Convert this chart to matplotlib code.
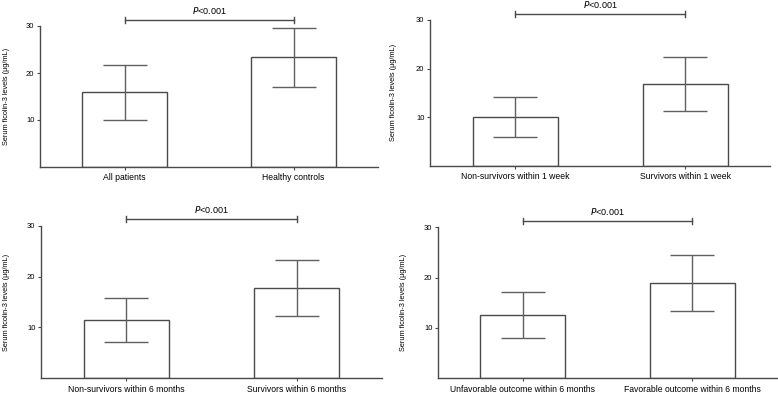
import matplotlib
matplotlib.use("Agg")
import matplotlib.pyplot as plt

plt.rcParams["font.family"] = ["Liberation Sans", "DejaVu Sans"]

# four comparisons, two groups each: mean and SD (ug/mL)
labels_a = ["All patients", "Healthy controls"]
means_a = [15.9, 23.3]
sd_a = [5.9, 6.3]

labels_b = ["Non-survivors within 1 week", "Survivors within 1 week"]
means_b = [10.0, 16.8]
sd_b = [4.1, 5.6]

labels_c = ["Non-survivors within 6 months", "Survivors within 6 months"]
means_c = [11.4, 17.8]
sd_c = [4.3, 5.5]

labels_d = ["Unfavorable outcome within 6 months", "Favorable outcome within 6 months"]
means_d = [12.6, 18.9]
sd_d = [4.6, 5.6]

y_ticks = [10, 20, 30]
p_text = "<0.001"
ylabel = "Serum ficolin-3 levels (\u00b5g/mL)"

W, H = 778, 395
fig = plt.figure(figsize=(W / 100, H / 100), dpi=100)


def box(l, r, b, t):
    # pixel box -> figure fraction
    return [l / W, 1 - b / H, (r - l) / W, (b - t) / H]


panels = [
    (box(40, 378, 167, 26), labels_a, means_a, sd_a, -0.089),
    (box(430, 770, 165.7, 20), labels_b, means_b, sd_b, -0.097),
    (box(41, 382, 378.3, 225.7), labels_c, means_c, sd_c, -0.091),
    (box(438, 777, 378.3, 227.3), labels_d, means_d, sd_d, -0.091),
]

edge = "#4a4a4a"
for rect, labels, means, sds, lab_x in panels:
    ax = fig.add_axes(rect)
    x = [1, 2]
    ax.bar(x, means, width=0.5, color="white", edgecolor=edge, linewidth=1.0, zorder=2)
    ax.errorbar(x, means, yerr=sds, fmt="none", ecolor="#606060", elinewidth=1.0,
                capsize=15.5, capthick=1.0, zorder=3)
    ax.set_xlim(0.5, 2.5)
    ax.set_ylim(0, 30)
    ax.set_yticks(y_ticks)
    ax.set_xticks(x)
    ax.set_xticklabels(labels)
    ax.tick_params(axis="both", labelsize=6.2, length=2.5, width=0.8, color=edge, pad=2)
    ax.tick_params(axis="y", labelsize=5.5, pad=1.5)
    for s in ["top", "right"]:
        ax.spines[s].set_visible(False)
    for s in ["left", "bottom"]:
        ax.spines[s].set_color(edge)
        ax.spines[s].set_linewidth(1.0)
    ax.set_ylabel(ylabel, fontsize=5.3)
    ax.yaxis.set_label_coords(lab_x, 0.5)

    # significance bracket
    ax.plot([1, 2], [31.3, 31.3], color=edge, lw=1.0, clip_on=False)
    for xx in x:
        ax.plot([xx, xx], [30.7, 31.9], color=edge, lw=1.0, clip_on=False)
    ax.text(1.5, 33.2, r"$\it{P}$" + p_text, ha="center", va="center", fontsize=6.5)

fig.savefig("out.png", dpi=100)
